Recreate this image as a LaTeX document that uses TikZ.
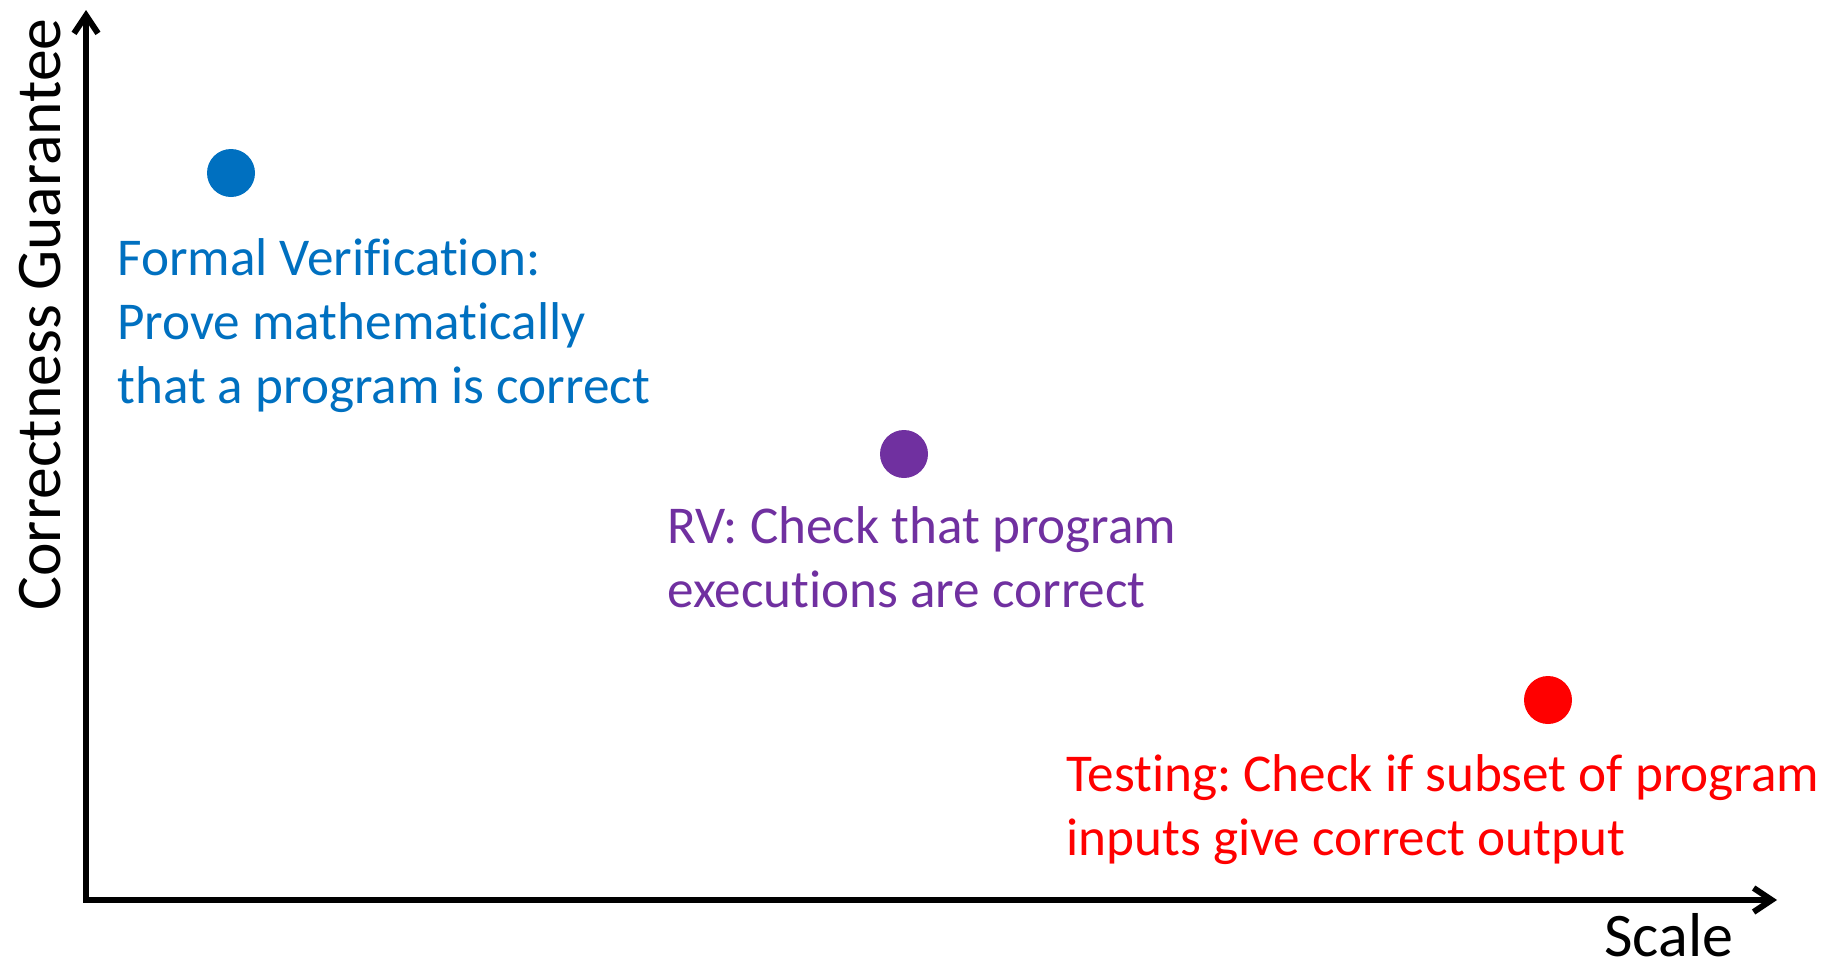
\documentclass[tikz,border=0pt]{standalone}
\usepackage{fontspec}
\setmainfont[Ligatures=NoCommon]{Carlito}
\usetikzlibrary{arrows.meta, positioning}
\definecolor{fvblue}{HTML}{0070C0}
\definecolor{rvpurple}{HTML}{7030A0}
\definecolor{testred}{HTML}{FF0000}
\frenchspacing

\begin{document}
\begin{tikzpicture}[x=0.5pt, y=-0.5pt,
    axis/.style={line width=3pt, {Straight Barb[length=9pt,width=12pt]}-{Straight Barb[length=9pt,width=12pt]}},
    dot/.style={circle, inner sep=0pt, minimum size=24pt},
    note/.style={anchor=north west, inner sep=0pt, align=left, font=\fontsize{26.6}{32}\selectfont},
    axislabel/.style={inner sep=0pt, anchor=base west, font=\fontsize{31}{37}\selectfont}]
    \useasboundingbox (0,0) rectangle (1841,969);
    % axes
    \coordinate (origin) at (86,900);
    \coordinate (ytip) at (86,10);
    \coordinate (xtip) at (1777,900);
    \draw[axis] (ytip) -- (origin) -- (xtip);
    \node[axislabel] (scale) at (1604,956) {Scale};
    \node[axislabel, rotate=90, font=\fontsize{31.8}{37}\selectfont] (guarantee) at (61,611) {Correctness Guarantee};
    % techniques
    \node[dot, fill=fvblue] (fv) at (231,173) {};
    \node[dot, fill=rvpurple] (rv) at (904,454) {};
    \node[dot, fill=testred] (test) at (1548,700) {};
    \node[note, text=fvblue] (fvtext) at (117,238) {Formal Verification:\\Prove mathematically\\that a program is correct};
    \node[note, text=rvpurple] (rvtext) at (667,506) {RV: Check that program\\executions are correct};
    \node[note, text=testred] (testtext) at (1066,754) {Testing: Check if subset of program\\inputs give correct output};
\end{tikzpicture}
\end{document}
